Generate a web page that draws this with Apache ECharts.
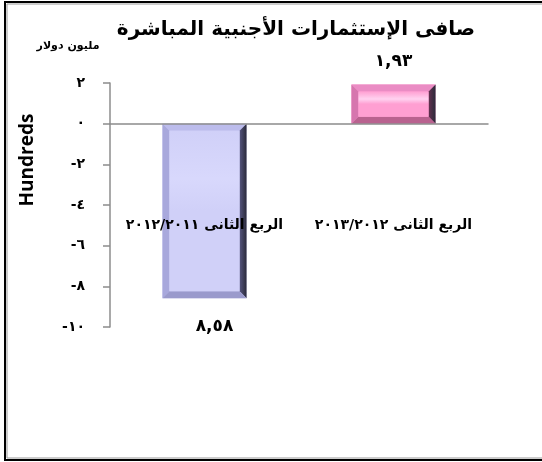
<!DOCTYPE html>
<html>
<head>
<meta charset="utf-8">
<script src="https://cdn.jsdelivr.net/npm/echarts@6/dist/echarts.min.js"></script>
<style>
  html, body { margin: 0; padding: 0; background: #fff; }
  #chartDiv { width: 542px; height: 462px; }
</style>
</head>
<body>
<div id="chartDiv"></div>
<script>
// بيانات الرسم
var categories = ['الربع الثانى ٢٠١٢/٢٠١١', 'الربع الثانى ٢٠١٣/٢٠١٢'];
var values = [-8.58, 1.93];
var yMin = -10, yMax = 2, yStep = 2;

// ألوان الأعمدة (وجه، أعلى، يسار، يمين، أسفل)
var bevelColors = [
    { face: '#d0d0f8', top: '#bcbcec', left: '#a8a8dc', right: '#55557e', bottom: '#9a9acc', shine: '#d8d8fc' },
    { face: '#ff9fd2', top: '#ea8cc4', left: '#d676ae', right: '#63304f', bottom: '#b9628f', shine: '#ffd2f0' }
];

function toArabicDigits(s) {
    return String(s).replace(/[0-9]/g, function (d) { return '٠١٢٣٤٥٦٧٨٩'.charAt(+d); });
}

var chartDiv = document.getElementById('chartDiv');
var myChart = echarts.init(chartDiv);

var barRatio = 0.445;
var bevel = 7;

var option = {
    animation: false,
    textStyle: { fontFamily: 'DejaVu Sans' },
    grid: { left: 110, right: 54, top: 83, bottom: 135 },
    graphic: [
        { type: 'rect', shape: { x: 5, y: 2, width: 600, height: 458 }, style: { fill: 'none', stroke: '#000', lineWidth: 2 }, z: 0 },
        { type: 'rect', shape: { x: 7, y: 4, width: 600, height: 454 }, style: { fill: 'none', stroke: '#999', lineWidth: 1 }, z: 0 },
        { type: 'text', x: 296, y: 30, style: { text: 'صافى الإستثمارات الأجنبية المباشرة', font: 'bold 20px "DejaVu Sans"', fill: '#000', align: 'center', verticalAlign: 'middle' } },
        { type: 'text', x: 68, y: 46, style: { text: 'مليون دولار', font: 'bold 11px "DejaVu Sans"', fill: '#000', align: 'center', verticalAlign: 'middle' } },
        { type: 'text', x: 28, y: 160, rotation: Math.PI / 2, style: { text: 'Hundreds', font: 'bold 19px "Open Sans"', fill: '#000', align: 'center', verticalAlign: 'middle' } }
    ],
    xAxis: {
        type: 'category',
        data: categories,
        z: 5,
        axisLine: { onZero: true, lineStyle: { color: '#8c8c8c', width: 1.5 } },
        axisTick: { show: false },
        axisLabel: { interval: 0, hideOverlap: false, margin: -109, color: '#000', fontWeight: 'bold', fontSize: 14, fontFamily: 'DejaVu Sans' }
    },
    yAxis: {
        type: 'value',
        min: yMin,
        max: yMax,
        interval: yStep,
        splitLine: { show: false },
        axisLine: { show: true, lineStyle: { color: '#8c8c8c', width: 1.5 } },
        axisTick: { show: true, length: 7, lineStyle: { color: '#8c8c8c', width: 1.5 } },
        axisLabel: {
            margin: 25,
            color: '#000',
            fontWeight: 'bold',
            fontSize: 14,
            fontFamily: 'DejaVu Sans',
            formatter: function (v) {
                return (v < 0 ? '-' : '') + toArabicDigits(Math.abs(v));
            }
        }
    },
    series: [
        {
            // عمود مجسم
            type: 'custom',
            data: values.map(function (v, i) { return [i, v]; }),
            renderItem: function (params, api) {
                var i = api.value(0);
                var p0 = api.coord([i, 0]);
                var p1 = api.coord([i, api.value(1)]);
                var w = api.size([1, 0])[0] * barRatio;
                var l = p0[0] - w / 2, r = p0[0] + w / 2;
                var t = Math.min(p0[1], p1[1]), b = Math.max(p0[1], p1[1]);
                var c = bevelColors[params.dataIndex];
                var e = bevel;
                return {
                    type: 'group',
                    children: [
                        { type: 'rect', shape: { x: l, y: t, width: w, height: b - t }, style: { fill: c.face } },
                        { type: 'polygon', shape: { points: [[l, t], [r, t], [r - e, t + e], [l + e, t + e]] }, style: { fill: c.top } },
                        { type: 'polygon', shape: { points: [[l, t], [l + e, t + e], [l + e, b - e], [l, b]] }, style: { fill: c.left } },
                        { type: 'polygon', shape: { points: [[r, t], [r, b], [r - e, b - e], [r - e, t + e]] }, style: { fill: new echarts.graphic.LinearGradient(0, 0, 1, 0, [{ offset: 0, color: c.right }, { offset: 1, color: '#2a2a3a' }]) } },
                        { type: 'polygon', shape: { points: [[l, b], [l + e, b - e], [r - e, b - e], [r, b]] }, style: { fill: c.bottom } },
                        { type: 'rect', shape: { x: l + e, y: t + e, width: w - 2 * e, height: b - t - 2 * e },
                          style: { fill: new echarts.graphic.LinearGradient(0, 0, 0, 1, [
                              { offset: 0, color: c.face }, { offset: 0.3, color: c.shine }, { offset: 0.5, color: c.face }, { offset: 1, color: c.face }]) } }
                    ]
                };
            },
            z: 2
        },
        {
            // قيم الأعمدة
            type: 'bar',
            barWidth: (barRatio * 100) + '%',
            silent: true,
            itemStyle: { color: 'rgba(0,0,0,0)' },
            label: {
                show: true,
                color: '#000',
                fontWeight: 'bold',
                fontSize: 17,
                fontFamily: 'DejaVu Sans',
                formatter: function (p) {
                    return toArabicDigits(Math.abs(p.value).toFixed(2)).replace('.', ',');
                }
            },
            z: 3,
            // موضع القيمة: فوق العمود الموجب وتحت السالب
            data: values.map(function (v) {
                return {
                    value: v,
                    label: v >= 0 ? { position: 'top', distance: 14 } : { position: 'bottom', distance: 20, offset: [10, 0] }
                };
            })
        }
    ]
};

myChart.setOption(option);
window.onresize = myChart.resize;
</script>
</body>
</html>
